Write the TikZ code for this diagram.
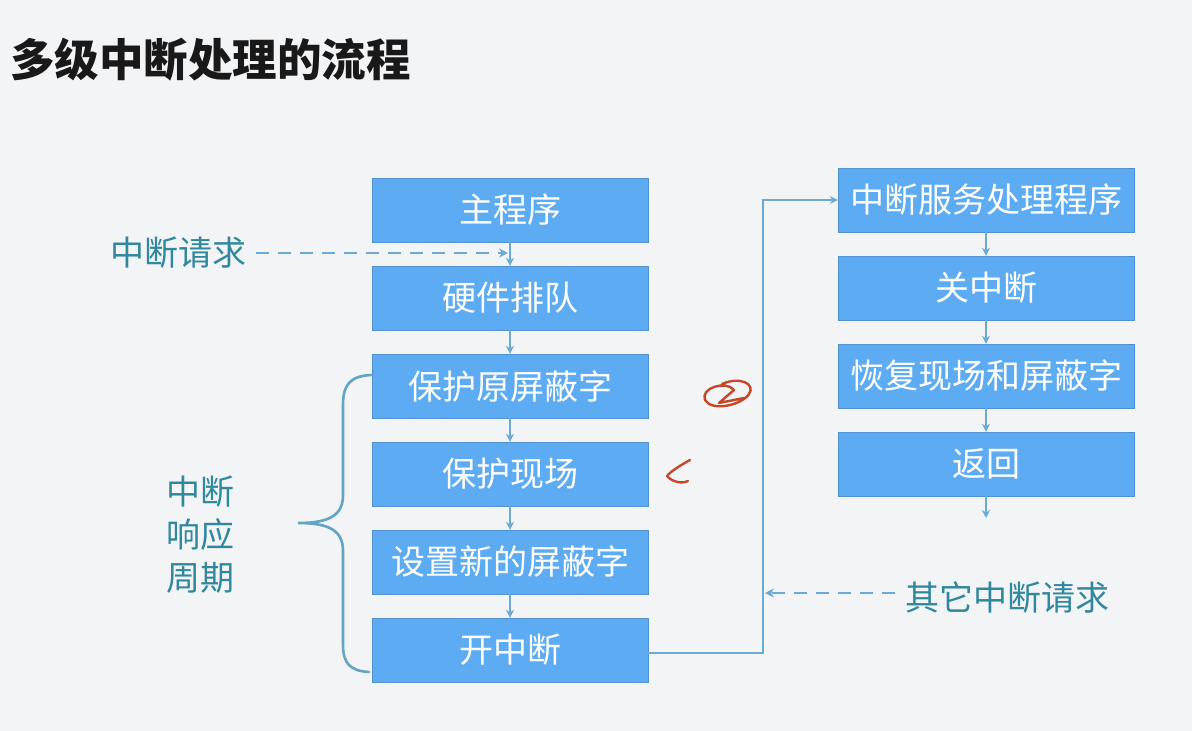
\documentclass[tikz,border=0pt]{standalone}
\usepackage{fontspec}
\newfontfamily\cjk{Noto Sans CJK SC}
\usetikzlibrary{arrows.meta}
\definecolor{bg}{RGB}{243,244,246}
\definecolor{boxblue}{RGB}{93,172,243}
\definecolor{linkblue}{RGB}{108,170,214}
\definecolor{labelteal}{RGB}{48,136,158}
\definecolor{bracecol}{RGB}{98,165,196}
\definecolor{inkred}{RGB}{196,72,40}
\tikzset{
  stepbox/.style={rectangle, fill=boxblue, draw=boxblue!85!black, line width=0.4pt,
    minimum height=64pt, inner sep=0pt, text=white,
    font=\cjk\fontsize{34}{38}\selectfont},
  leftbox/.style={stepbox, minimum width=276pt},
  rightbox/.style={stepbox, minimum width=296pt},
  link/.style={draw=linkblue, line width=2.4pt, -{Stealth[length=8pt,width=8pt]}},
  dashlink/.style={draw=linkblue, line width=2.6pt, dash pattern=on 13pt off 9pt, -{Stealth[length=9pt,width=9pt]}},
  lbl/.style={text=labelteal, font=\cjk\fontsize{34}{43}\selectfont, inner sep=0pt},
  ink/.style={draw=inkred, line width=2.4pt, line cap=round, line join=round}
}
\begin{document}
\begin{tikzpicture}[x=1pt,y=-1pt]
\fill[bg] (0,0) rectangle (1192,731);
\useasboundingbox (0,0) rectangle (1192,731);

% title
\node[anchor=west, inner sep=0pt, font=\cjk\bfseries\fontsize{44.5}{48}\selectfont, text=black!90] (title) at (10,60) {多级中断处理的流程};

% left column
\node[leftbox] (l1) at (510,210) {主程序};
\node[leftbox] (l2) at (510,298) {硬件排队};
\node[leftbox] (l3) at (510,386) {保护原屏蔽字};
\node[leftbox] (l4) at (510,474) {保护现场};
\node[leftbox] (l5) at (510,562) {设置新的屏蔽字};
\node[leftbox] (l6) at (510,650) {开中断};

\draw[link] (l1.south) -- (l2.north);
\draw[link] (l2.south) -- (l3.north);
\draw[link] (l3.south) -- (l4.north);
\draw[link] (l4.south) -- (l5.north);
\draw[link] (l5.south) -- (l6.north);

% right column
\node[rightbox] (r1) at (986,200) {中断服务处理程序};
\node[rightbox] (r2) at (986,288) {关中断};
\node[rightbox] (r3) at (986,376) {恢复现场和屏蔽字};
\node[rightbox] (r4) at (986,464) {返回};

\draw[link] (r1.south) -- (r2.north);
\draw[link] (r2.south) -- (r3.north);
\draw[link] (r3.south) -- (r4.north);
\coordinate (rend) at (986,518);
\draw[link] (r4.south) -- (rend);

% jump from 开中断 to service routine
\coordinate (bend) at (763,653);
\draw[link] (l6.east |- bend) -- (bend) |- (r1.west);

% interrupt request
\node[lbl] (req) at (178,253) {中断请求};
\coordinate (reqend) at (508,253);
\draw[dashlink] ([xshift=10pt]req.east) -- (reqend);

% other interrupt requests
\node[lbl, anchor=west] (oreq) at (905,598) {其它中断请求};
\coordinate (oend) at (765,593);
\coordinate (ostart) at (895,593);
\draw[dashlink] (ostart) -- (oend);

% brace
\coordinate (btip) at (298,523);
\draw[bracecol, line width=2.6pt, line cap=round]
  (371,375) .. controls (350,376) and (343,385) .. (343,405)
  -- (343,495) .. controls (343,515) and (330,523) .. (btip)
  .. controls (330,523) and (343,531) .. (343,551)
  -- (343,645) .. controls (343,663) and (350,671) .. (369,672);
\node[lbl, align=center] (cycle) at (200,535) {中断\\响应\\周期};

% handwritten marks
\draw[ink] (722,384) .. controls (740,376) and (756,384) .. (749,394)
  .. controls (742,405) and (712,412) .. (705,400)
  .. controls (700,388) and (726,380) .. (734,390) -- (719,403) -- (744,398);
\draw[ink] (690,460) .. controls (681,465) and (671,471) .. (667,476)
  .. controls (672,482) and (682,484) .. (688,481);
\end{tikzpicture}
\end{document}
